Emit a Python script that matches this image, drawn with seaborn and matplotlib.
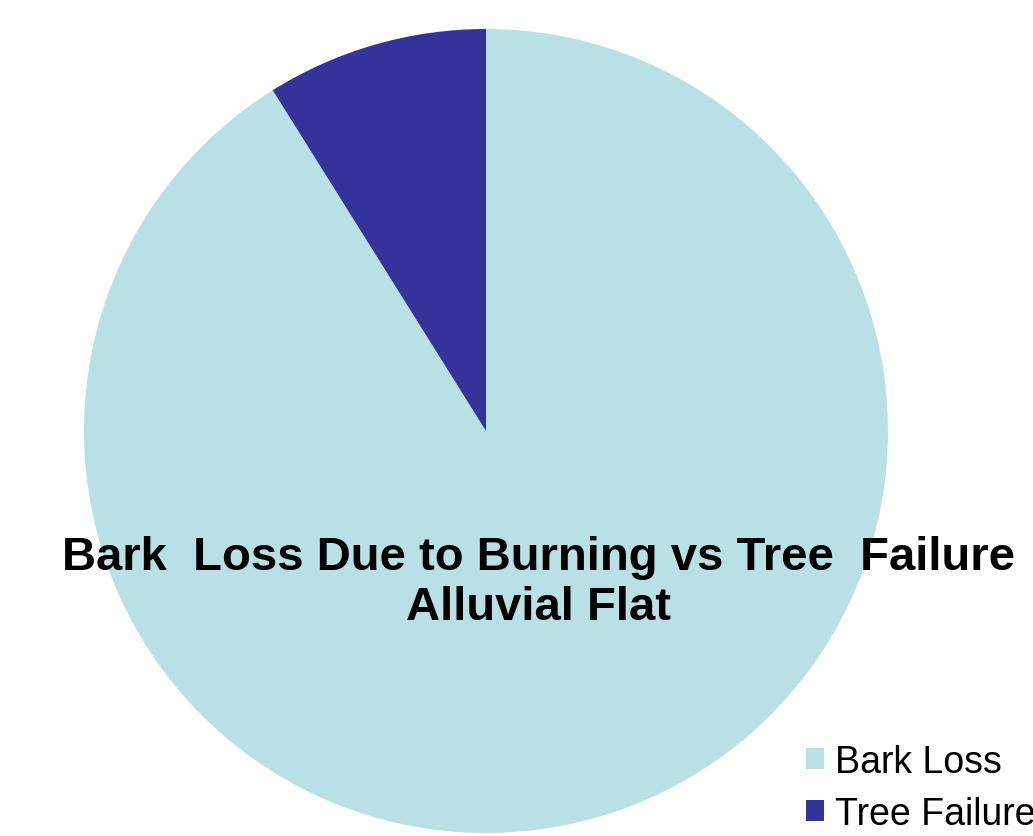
import matplotlib
matplotlib.use("Agg")
import matplotlib.pyplot as plt
import seaborn as sns

# Dados do gráfico
labels = ['Bark Loss', 'Tree Failure']
values = [91.1, 8.9]
colors = ['#B9E0E4', '#343399']

sns.set_theme(style="white")
plt.rcParams['font.family'] = ['Liberation Sans', 'DejaVu Sans']
plt.rcParams['text.color'] = 'black'

fig = plt.figure(figsize=(10.33, 8.37), dpi=100)
ax = fig.add_axes([84 / 1033, 3 / 837, 804 / 1033, 804 / 837])

wedges, _ = ax.pie(values, colors=sns.color_palette(colors), startangle=90,
                   counterclock=False, radius=1.0, wedgeprops={'linewidth': 0})
ax.set_xlim(-1, 1)
ax.set_ylim(-1, 1)
ax.set_aspect('equal')
ax.axis('off')

# Título sobre o gráfico
fig.text(538 / 1033, 1 - 583 / 837,
         'Bark  Loss Due to Burning vs Tree  Failure\nAlluvial Flat',
         ha='center', va='center', fontsize=34, fontweight='bold',
         color='black', linespacing=1.15)

# Legenda
fig.legend(wedges, labels, loc='upper left', bbox_to_anchor=(791 / 1033, 1 - 730 / 837),
           frameon=False, fontsize=27, handlelength=0.48, handleheight=0.48,
           handletextpad=0.3, labelspacing=0.42, borderaxespad=0,
           labelcolor='black')

fig.savefig('out.png', dpi=100)
